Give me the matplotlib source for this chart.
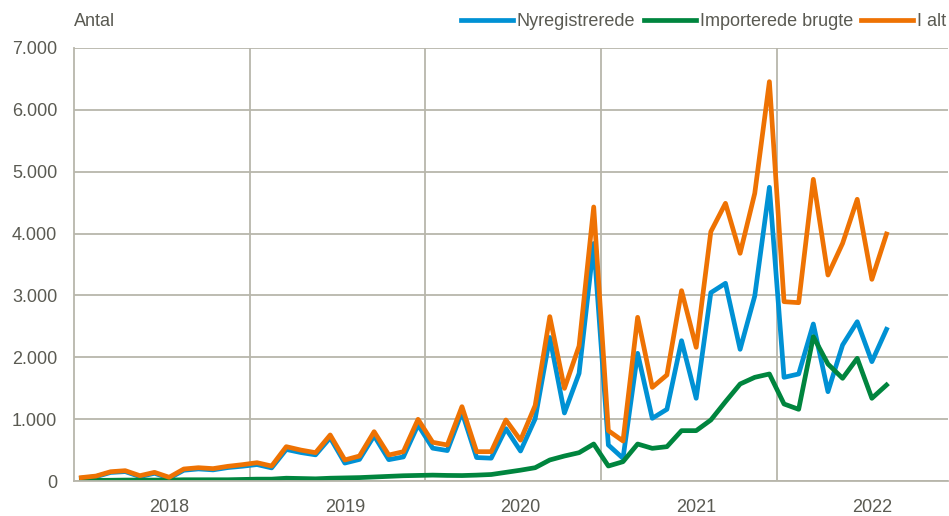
import numpy as np
import matplotlib
matplotlib.use("Agg")
import matplotlib.pyplot as plt
from matplotlib.ticker import FuncFormatter

plt.rcParams['font.family'] = ['Liberation Sans Narrow', 'Liberation Sans', 'DejaVu Sans']

# maanedlige tal jan 2018 - aug 2022
maaneder = np.arange(56)
nyregistrerede = [45, 70, 138, 152, 71, 125, 45, 174, 195, 180, 217, 239,
                  266, 212, 510, 460, 423, 699, 290, 349, 732, 345, 389, 907,
                  531, 492, 1114, 379, 369, 846, 485, 1005, 2320, 1100, 1740, 3840,
                  582, 367, 2064, 1013, 1159, 2268, 1337, 3044, 3196, 2129, 2991, 4748,
                  1676, 1730, 2538, 1444, 2199, 2575, 1929, 2452]
importerede = [10, 10, 12, 15, 15, 15, 15, 20, 20, 20, 20, 25,
               30, 30, 45, 40, 35, 45, 50, 55, 65, 75, 85, 90,
               95, 90, 88, 95, 105, 140, 175, 215, 340, 404, 458, 598,
               242, 312, 598, 528, 555, 814, 814, 986, 1282, 1568, 1676, 1730,
               1245, 1159, 2333, 1891, 1660, 1983, 1337, 1552]
i_alt = [55, 80, 150, 167, 86, 140, 60, 194, 215, 200, 237, 264,
         296, 242, 555, 500, 458, 744, 340, 404, 797, 420, 474, 997,
         626, 582, 1202, 474, 474, 986, 660, 1220, 2657, 1498, 2182, 4430,
         814, 647, 2646, 1514, 1714, 3077, 2161, 4031, 4489, 3681, 4651, 6456,
         2899, 2883, 4877, 3330, 3842, 4554, 3260, 3993]
aar = ["2018", "2019", "2020", "2021", "2022"]

tekst = "#5a5a52"
gitter = "#b8b6ab"
fs = 13

fig = plt.figure(figsize=(9.49, 5.16), dpi=100)
ax = fig.add_axes([74/949, 35/516, 874/949, 433/516])

ax.plot(maaneder, nyregistrerede, color="#0091d4", lw=3.4, label="Nyregistrerede", solid_joinstyle="round")
ax.plot(maaneder, importerede, color="#00853e", lw=3.4, label="Importerede brugte", solid_joinstyle="round")
ax.plot(maaneder, i_alt, color="#ee7203", lw=3.4, label="I alt", solid_joinstyle="round")

ax.set_xlim(-0.5, 59.2)
ax.set_ylim(0, 7000)
ax.set_yticks(np.arange(0, 7001, 1000))
ax.yaxis.set_major_formatter(FuncFormatter(lambda v, p: f"{int(v):,}".replace(",", ".")))
ax.set_xticks([6 + 12*i for i in range(len(aar))])
ax.set_xticklabels(aar)
ax.grid(axis="y", color=gitter, lw=1.3)
for g in [11.5, 23.5, 35.5, 47.5]:
    ax.axvline(g, color=gitter, lw=1.3, zorder=0)
ax.set_axisbelow(True)
for s in ["top", "right"]:
    ax.spines[s].set_visible(False)
for s in ["left", "bottom"]:
    ax.spines[s].set_color(gitter)
    ax.spines[s].set_linewidth(1.3)
ax.tick_params(length=0, labelsize=fs, colors=tekst)
ax.tick_params(axis="y", pad=12)
ax.tick_params(axis="x", pad=13)

fig.text(74/949, 1 - 22/516, "Antal", fontsize=fs, color=tekst, va="center", ha="left")
leg = fig.legend(loc="center right", bbox_to_anchor=(946/949, 1 - 22/516), ncol=3, frameon=False,
                 fontsize=fs, handlelength=2.9, handletextpad=0.2, columnspacing=0.45,
                 borderaxespad=0, borderpad=0)
for t in leg.get_texts():
    t.set_color(tekst)

fig.savefig("out.png", dpi=100)
